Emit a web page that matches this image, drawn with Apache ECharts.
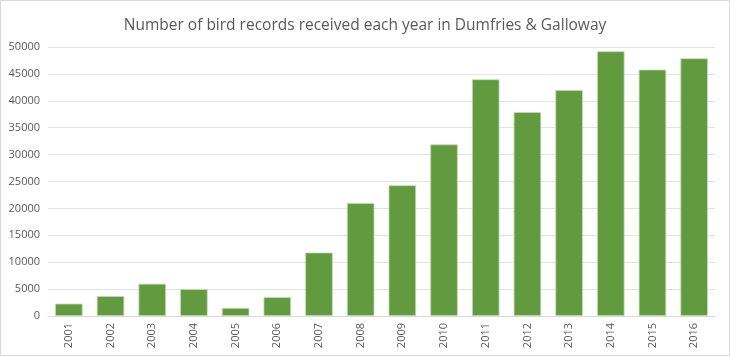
<!DOCTYPE html>
<html><head><meta charset="utf-8">
<script src="https://cdn.jsdelivr.net/npm/echarts@6/dist/echarts.min.js"></script>
<style>html,body{margin:0;padding:0;background:#fff}#c{width:730px;height:356px;box-sizing:border-box;border:1px solid #d9d9d9}</style>
</head><body><div id="c"></div>
<script>
const years = ['2001','2002','2003','2004','2005','2006','2007','2008','2009','2010','2011','2012','2013','2014','2015','2016'];
const records = [2300,3700,6000,5000,1500,3500,11800,21000,24300,31900,44000,37900,42000,49200,45800,47900];
const yTicks = {min:0, max:50000, interval:5000};
const chart = echarts.init(document.getElementById('c'), null, {renderer:'canvas'});
chart.setOption({
  animation:false,
  title:{text:'Number of bird records received each year in Dumfries & Galloway',left:'center',top:12,
    textStyle:{fontFamily:'Open Sans',fontSize:15.5,fontWeight:'normal',color:'#595959'}},
  grid:{left:47,right:14,top:46,bottom:39},
  xAxis:{type:'category',data:years,
    axisLine:{lineStyle:{color:'#d9d9d9'}},axisTick:{show:false},
    axisLabel:{rotate:90,color:'#595959',fontFamily:'Open Sans',fontSize:11,margin:7}},
  yAxis:{type:'value',min:yTicks.min,max:yTicks.max,interval:yTicks.interval,
    axisLine:{show:false},axisTick:{show:false},
    splitLine:{lineStyle:{color:'#e3e3e3'}},
    axisLabel:{color:'#595959',fontFamily:'Open Sans',fontSize:11,margin:8,formatter:v=>String(v)}},
  series:[{type:'bar',data:records,barWidth:'66%',
    itemStyle:{color:'#629a3f',borderColor:'#c5dbb5',borderWidth:0.8}}]
});
</script></body></html>
